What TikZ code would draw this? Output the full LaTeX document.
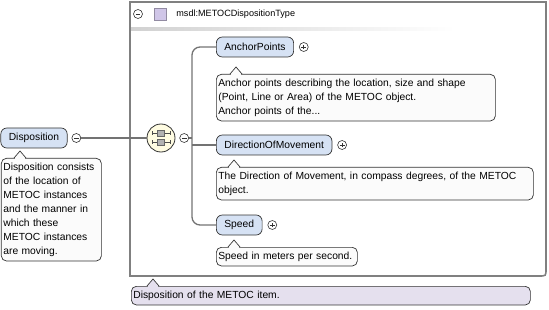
\documentclass[tikz,border=0pt]{standalone}
\usepackage{fontspec}
\setmainfont{Liberation Sans}
\usetikzlibrary{positioning,calc}

\definecolor{elemfill}{RGB}{214,226,244}
\definecolor{docfill}{RGB}{251,251,251}
\definecolor{notefill}{RGB}{229,224,238}
\definecolor{seqfill}{RGB}{255,252,226}
\definecolor{framegray}{RGB}{128,128,128}
\definecolor{typeicon}{RGB}{208,198,232}

% small tail on top of a doc box: node, offset from its left edge, fill
\newcommand{\doctail}[3]{%
  \fill[#3] ($(#1.north west)+(#2+1,0.7)$) rectangle ++(10,-1.4);
  \filldraw[fill=#3,draw=black!80,line width=0.7pt] ($(#1.north west)+(#2,0)$) -- ++(6,-7) -- ++(6,7);
}

\begin{document}
\begin{tikzpicture}[x=1pt,y=-1pt,font=\fontsize{10.3}{14}\selectfont,node distance=5pt,
  elem/.style={draw=black!80,line width=0.7pt,rounded corners=6pt,fill=elemfill,minimum height=20pt,inner xsep=8pt,inner ysep=0pt},
  doc/.style={draw=black!80,line width=0.7pt,rounded corners=5pt,fill=docfill,align=left,inner xsep=2pt,inner ysep=4.5pt,anchor=north west},
  tgl/.style={circle,draw=black!80,line width=0.6pt,fill=white,minimum size=9pt,inner sep=0pt},
  minus/.style={tgl,path picture={\draw[line width=0.6pt] ([xshift=-2.4pt]path picture bounding box.center) -- ([xshift=2.4pt]path picture bounding box.center);}},
  plus/.style={tgl,path picture={\draw[line width=0.6pt] ([xshift=-2.4pt]path picture bounding box.center) -- ([xshift=2.4pt]path picture bounding box.center) ([yshift=-2.4pt]path picture bounding box.center) -- ([yshift=2.4pt]path picture bounding box.center);}},
  wire/.style={draw=black!55,line width=1.3pt}]
\useasboundingbox (0,0) rectangle (549,310);

% complex type frame and its header
\draw[framegray,line width=1.6pt] (546,269) -- (546,2) -- (130,2) -- (130,276) -- (539,276) .. controls (546,276) .. (546,269);
\shade[left color=black!18,right color=white] (131,28) rectangle (455,30.5);
\node[minus] (typem) at (138,14) {};
\node[draw=typeicon!70!black,fill=typeicon,minimum size=12pt,inner sep=0pt,right=11pt of typem] (typeicon) {};
\node[right=10pt of typeicon,inner sep=0pt,font=\fontsize{9.1}{11}\selectfont] (typename) {msdl:METOCDispositionType};

% the element itself
\node[elem] (disp) at (34,138) {Disposition};
\node[minus,right=4pt of disp] (dispm) {};
\node[doc,text width=96pt] (dispdoc) at (1,158) {Disposition consists\\of the location of\\METOC instances\\and the manner in\\which these\\METOC instances\\are moving.};

% sequence compositor
\node[circle,draw=black!80,line width=0.8pt,fill=seqfill,minimum size=28pt] (seq) at (161,138) {};
\foreach \dy in {-4.5,4.5} {
  \draw[black!70,line width=0.6pt] ($(seq)+(-9,\dy)$) -- ++(18,0) ($(seq)+(-9,\dy-2)$) -- ++(0,4) ($(seq)+(9,\dy-2)$) -- ++(0,4);
  \filldraw[fill=black!30,draw=black!60,line width=0.4pt] ($(seq)+(-3.5,\dy-3)$) rectangle ++(7,6);
}
\node[minus,right=4pt of seq] (seqm) {};
\coordinate (bus) at (192,138);

% children
\node[elem,anchor=west] (anchorpts) at (216,47) {AnchorPoints};
\node[plus,right=5pt of anchorpts] (anchorptsp) {};
\node[doc,text width=275pt] (anchordoc) at (216,74) {Anchor points describing the location, size and shape\\(Point, Line or Area) of the METOC object.\\Anchor points of the...};

\node[elem,anchor=west] (direction) at (216,145) {DirectionOfMovement};
\node[plus,right=5pt of direction] (directionp) {};
\node[doc,text width=313pt] (directiondoc) at (216,167) {The Direction of Movement, in compass degrees, of the METOC\\object.};

\node[elem,anchor=west] (speed) at (216,225) {Speed};
\node[plus,right=5pt of speed] (speedp) {};
\node[doc,text width=137pt] (speeddoc) at (216,247) {Speed in meters per second.};

\node[doc,fill=notefill,text width=395pt] (typedoc) at (131,286) {Disposition of the METOC item.};

\doctail{dispdoc}{13}{docfill}
\doctail{anchordoc}{14}{docfill}
\doctail{directiondoc}{12}{docfill}
\doctail{speeddoc}{12}{docfill}
\doctail{typedoc}{16}{notefill}

% connectors
\draw[wire] (dispm) -- (seq);
\draw[wire] (seqm) -- (bus);
\draw[wire,rounded corners=8pt] (anchorpts) -| (bus) |- (speed);
\draw[wire] (bus |- direction.west) -- (direction);
\end{tikzpicture}
\end{document}
